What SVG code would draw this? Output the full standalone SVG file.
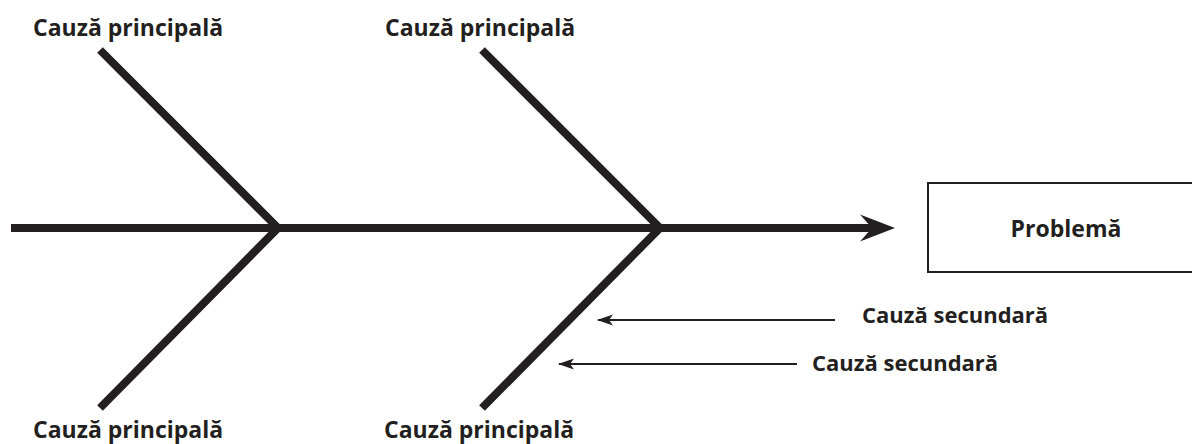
<svg xmlns="http://www.w3.org/2000/svg" width="1192" height="444" viewBox="0 0 1192 444">
  <style>
    .lbl { font-family: "Open Sans", "Noto Sans", "Liberation Sans", sans-serif; font-weight: bold; font-size: 23px; fill: #231f20; }
    .sec { font-size: 22px; }
    .bone { fill: none; stroke: #231f20; stroke-width: 8; stroke-linejoin: miter; stroke-linecap: butt; }
    .thin { fill: none; stroke: #231f20; stroke-width: 2; }
  </style>
  <defs>
    <marker id="small" viewBox="0 0 16 12" refX="15" refY="6" markerWidth="16" markerHeight="12" markerUnits="userSpaceOnUse" orient="auto">
      <path d="M16,6 L0,0.5 L4,6 L0,11.5 Z" fill="#231f20"/>
    </marker>
  </defs>
  <rect width="1192" height="444" fill="#ffffff"/>

  <g id="connectors">
    <line class="bone" x1="11" y1="228" x2="874" y2="228"/>
    <path d="M895,228 L860,214.5 L872,228 L860,241.5 Z" fill="#231f20"/>
    <polyline class="bone" points="100,50 278,228 100,408"/>
    <polyline class="bone" points="482,50 660,228 482,408"/>
    <line class="thin" x1="835" y1="320" x2="598" y2="320" marker-end="url(#small)"/>
    <line class="thin" x1="797" y1="364" x2="559" y2="364" marker-end="url(#small)"/>
  </g>

  <g id="problem">
    <rect x="928" y="183" width="300" height="89" fill="#ffffff" stroke="#231f20" stroke-width="2"/>
    <text class="lbl" x="1066" y="237" text-anchor="middle">Problemă</text>
  </g>
  <g id="cause-top-1"><text class="lbl" x="33" y="36">Cauză principală</text></g>
  <g id="cause-top-2"><text class="lbl" x="385" y="36">Cauză principală</text></g>
  <g id="cause-bottom-1"><text class="lbl" x="33" y="438">Cauză principală</text></g>
  <g id="cause-bottom-2"><text class="lbl" x="384" y="438">Cauză principală</text></g>
  <g id="secondary-1"><text class="lbl sec" x="862" y="323">Cauză secundară</text></g>
  <g id="secondary-2"><text class="lbl sec" x="812" y="371">Cauză secundară</text></g>
</svg>
